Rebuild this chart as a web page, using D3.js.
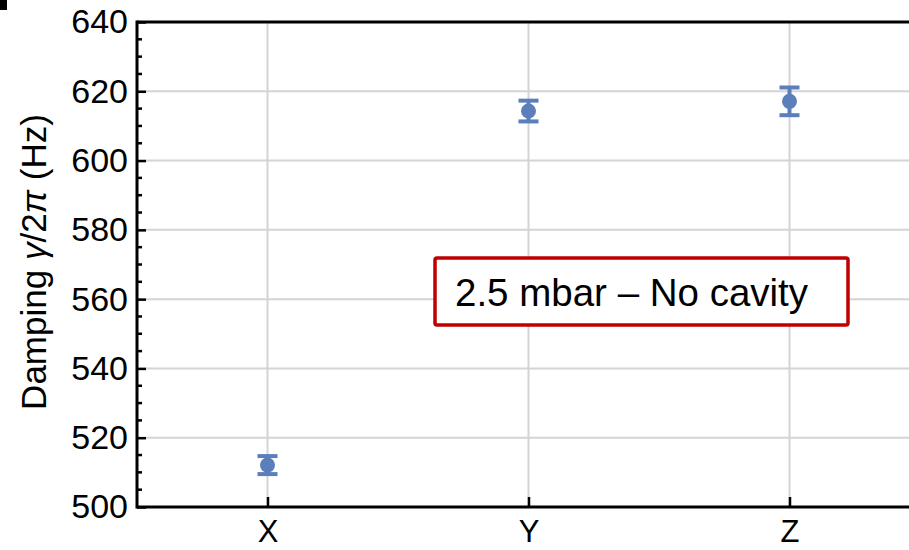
<!DOCTYPE html>
<html><head><meta charset="utf-8">
<script src="https://cdn.jsdelivr.net/npm/d3@7"></script>
<style>body{margin:0;background:#fff}svg{display:block}text{font-family:"Liberation Sans",Arial,sans-serif}</style>
</head><body>
<svg id="c" width="909" height="550"></svg>
<script>
const categories = ["X", "Y", "Z"];
const damping = [512.1, 614.3, 617.1];
const errors = [2.6, 3.0, 4.0];
const yTicks = [500, 520, 540, 560, 580, 600, 620, 640];
const annotation = "2.5 mbar \u2013 No cavity";

const svg = d3.select("#c");
const m = {left: 137, top: 22, bottom: 507, right: 920};
const x = d3.scaleLinear().domain([-0.5, 2.5]).range([m.left, m.right]);
const y = d3.scaleLinear().domain([500, 640]).range([m.bottom, m.top]);
const col = "#5b7fbb";

svg.append("rect").attr("x", 0).attr("y", 0).attr("width", 7).attr("height", 10).attr("fill", "#000");

// grid
svg.append("g").selectAll("line").data(yTicks.slice(1, -1)).join("line")
  .attr("x1", m.left).attr("x2", m.right).attr("y1", d => y(d)).attr("y2", d => y(d))
  .attr("stroke", "#d4d4d4").attr("stroke-width", 2);
svg.append("g").selectAll("line").data(categories).join("line")
  .attr("x1", (d, i) => x(i)).attr("x2", (d, i) => x(i)).attr("y1", m.top).attr("y2", m.bottom)
  .attr("stroke", "#d4d4d4").attr("stroke-width", 2);

// axes
const yAxis = d3.axisLeft(y).tickValues(yTicks).tickSize(-9).tickPadding(9).tickFormat(d3.format("d"));
const gy = svg.append("g").attr("transform", `translate(${m.left},0)`).call(yAxis);
gy.select(".domain").remove();
gy.selectAll(".tick line").attr("stroke", "#000").attr("stroke-width", 2.5);
gy.selectAll(".tick text").attr("font-size", 34).attr("fill", "#000").attr("font-family", '"Liberation Sans",Arial,sans-serif');
const minor = d3.range(500, 641, 5).filter(v => v % 20 !== 0);
svg.append("g").selectAll("line").data(minor).join("line")
  .attr("x1", m.left).attr("x2", m.left + 5).attr("y1", d => y(d)).attr("y2", d => y(d))
  .attr("stroke", "#000").attr("stroke-width", 2.5);

const xAxis = d3.axisBottom(x).tickValues([0, 1, 2]).tickSize(-10).tickPadding(13).tickFormat(i => categories[i]);
const gx = svg.append("g").attr("transform", `translate(0,${m.bottom})`).call(xAxis);
gx.select(".domain").remove();
gx.selectAll(".tick line").attr("stroke", "#000").attr("stroke-width", 2.5);
gx.selectAll(".tick text").attr("font-size", 31).attr("fill", "#000").attr("font-family", '"Liberation Sans",Arial,sans-serif');

// frame lines
svg.append("line").attr("x1", m.left).attr("x2", m.left).attr("y1", m.top - 1.5).attr("y2", m.bottom + 1.5).attr("stroke", "#000").attr("stroke-width", 3);
svg.append("line").attr("x1", m.left).attr("x2", m.right).attr("y1", m.bottom).attr("y2", m.bottom).attr("stroke", "#000").attr("stroke-width", 3);
svg.append("line").attr("x1", m.left).attr("x2", m.right).attr("y1", m.top).attr("y2", m.top).attr("stroke", "#000").attr("stroke-width", 3);

// error bars
const pts = svg.append("g").selectAll("g").data(damping).join("g");
pts.append("line").attr("x1", (d, i) => x(i)).attr("x2", (d, i) => x(i))
  .attr("y1", (d, i) => y(d - errors[i])).attr("y2", (d, i) => y(d + errors[i]))
  .attr("stroke", col).attr("stroke-width", 4);
[-1, 1].forEach(s => {
  pts.append("line").attr("x1", (d, i) => x(i) - 10).attr("x2", (d, i) => x(i) + 10)
    .attr("y1", (d, i) => y(d + s * errors[i])).attr("y2", (d, i) => y(d + s * errors[i]))
    .attr("stroke", col).attr("stroke-width", 4);
});
pts.append("circle").attr("cx", (d, i) => x(i)).attr("cy", d => y(d)).attr("r", 7.5).attr("fill", col);

// y label
const yl = svg.append("text").attr("transform", `translate(46,262) rotate(-90)`)
  .attr("text-anchor", "middle").attr("font-size", 35).attr("fill", "#000");
yl.append("tspan").text("Damping ");
yl.append("tspan").attr("font-style", "italic").text("\u03b3");
yl.append("tspan").text("/2");
yl.append("tspan").attr("font-style", "italic").text("\u03c0");
yl.append("tspan").text(" (Hz)");

// annotation box
svg.append("rect").attr("x", 435).attr("y", 258).attr("width", 413).attr("height", 67).attr("rx", 2)
  .attr("fill", "#fff").attr("stroke", "#c00000").attr("stroke-width", 3.5);
svg.append("text").attr("x", 455).attr("y", 306).attr("font-size", 38.5).attr("fill", "#000").text(annotation);
</script>
</body></html>
